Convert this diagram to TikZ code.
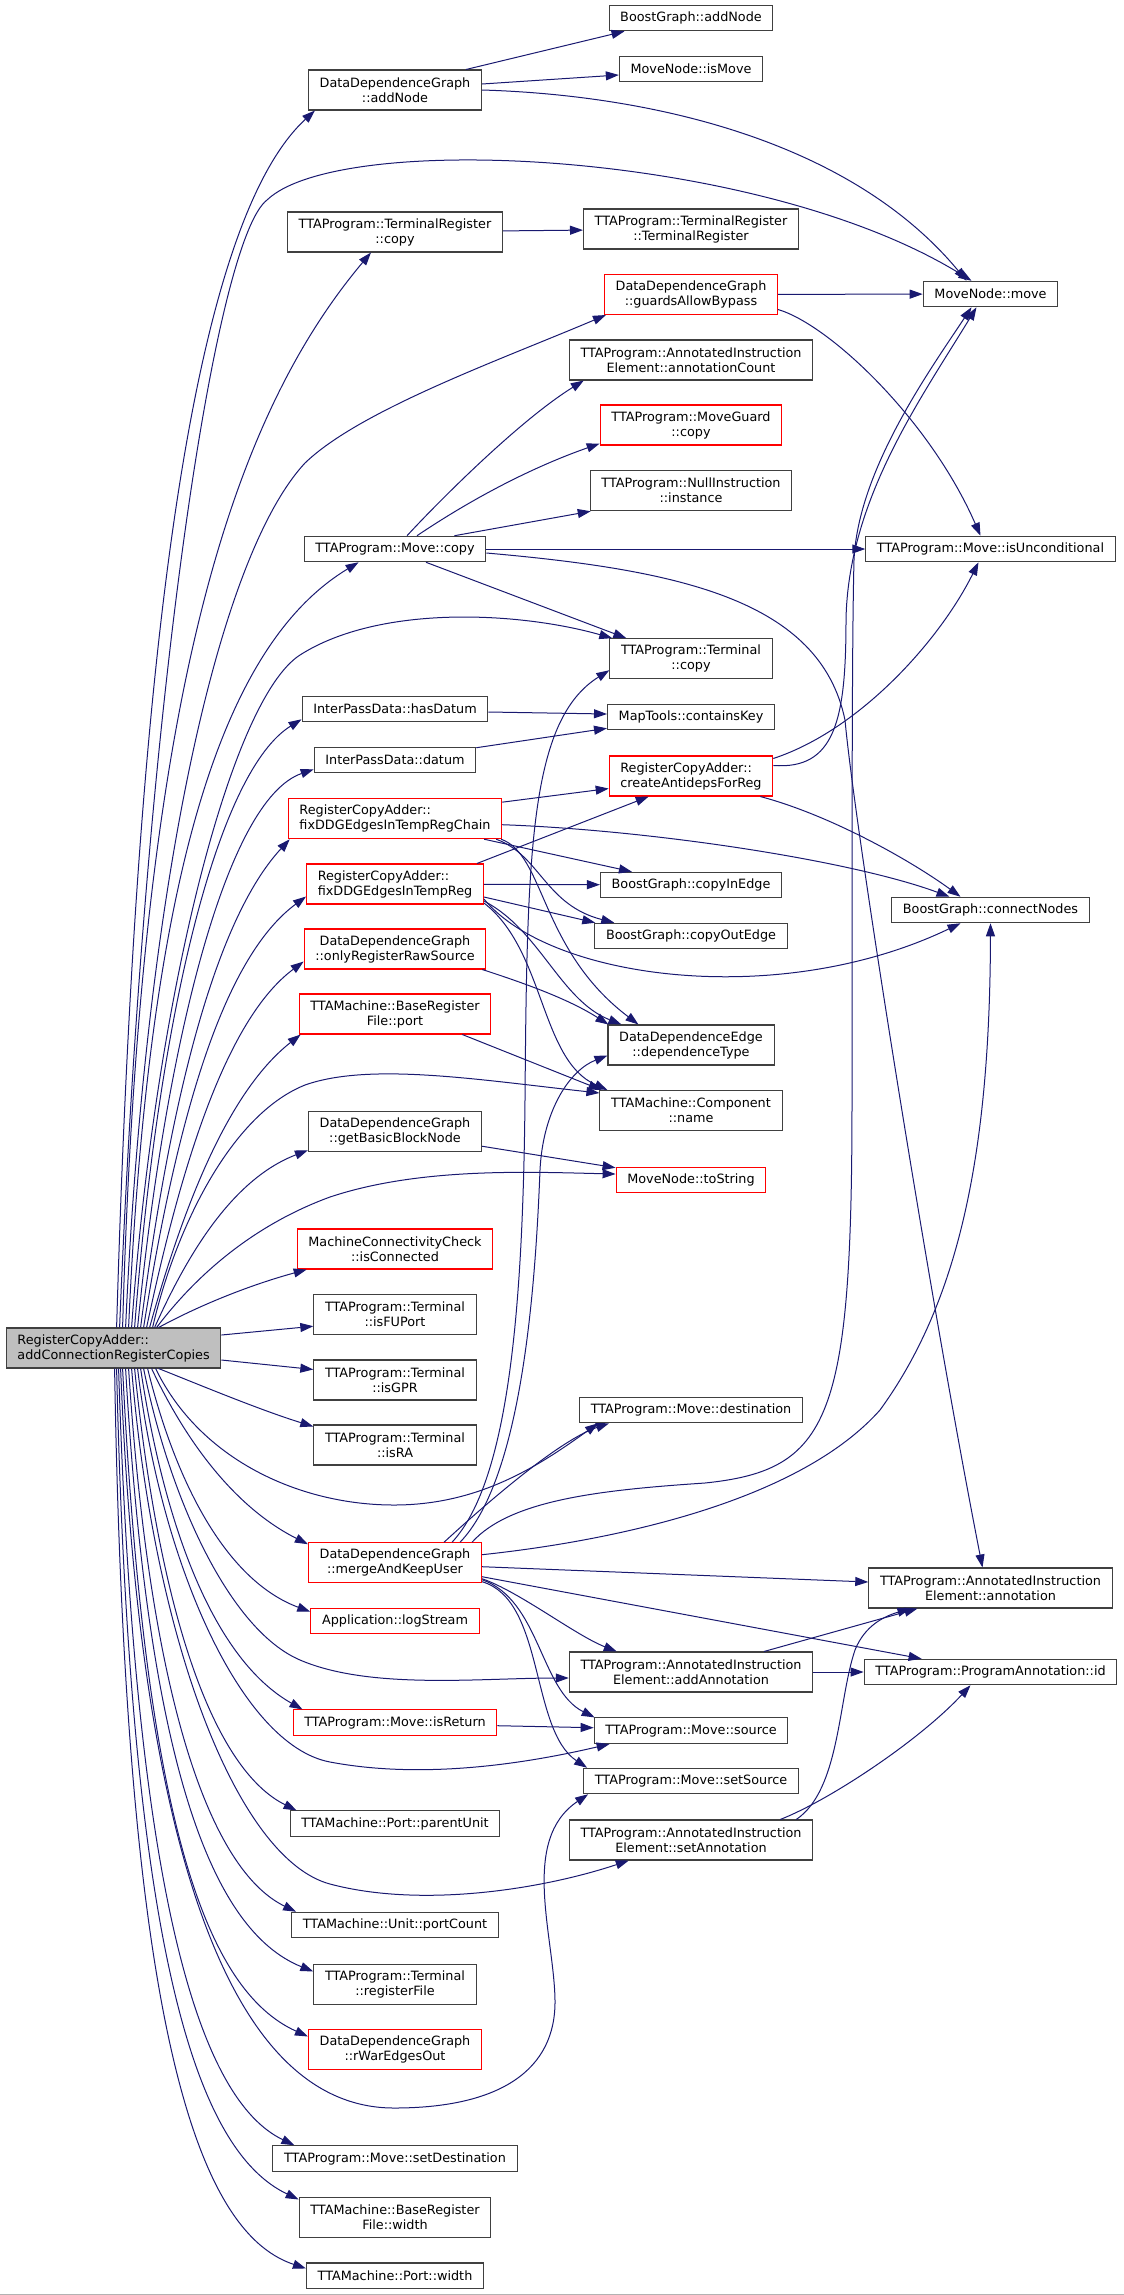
\documentclass[tikz,border=0pt]{standalone}
\usepackage{fontspec}
\setmainfont{DejaVu Sans}
\usetikzlibrary{arrows.meta}

\definecolor{edgeblue}{HTML}{191970}
\definecolor{boxgray}{HTML}{404040}
\definecolor{rootgray}{HTML}{BFBFBF}

\tikzstyle{fn}=[draw=boxgray,line width=1.05pt,fill=white,inner xsep=11.2pt,inner ysep=2pt,minimum height=25.5pt,align=center,font=\fontsize{12.8pt}{15pt}\selectfont]
\tikzstyle{fnd}=[fn,minimum height=40pt]
\tikzstyle{hot}=[fn,draw=red]
\tikzstyle{hotd}=[fnd,draw=red]
\tikzstyle{hotl}=[hotd,align=left]
\tikzstyle{root}=[fnd,fill=rootgray,align=left]
\tikzstyle{edge}=[draw=edgeblue,line width=1pt,-{Triangle[length=13pt,width=9pt]}]

\begin{document}
\begin{tikzpicture}[x=1pt,y=1pt]
    \useasboundingbox (0,0) rectangle (1124,-2295);
    \draw[gray!60,line width=1pt] (0,-2294.5) -- (1124,-2294.5);
    % First we draw the functions, column by column
    \node[root] (main) at (113.6,-1348) {RegisterCopyAdder::\\addConnectionRegisterCopies};
    \foreach \y/\name/\sty/\txt in {90/addnode/fnd/{DataDependenceGraph\\::addNode},
        232/trcopy/fnd/{TTAProgram::TerminalRegister\\::copy},
        549/mvcopy/fn/{TTAProgram::Move::copy},
        709/hasdatum/fn/{InterPassData::hasDatum},
        760/datum/fn/{InterPassData::datum},
        818.7/fixchain/hotl/{RegisterCopyAdder::\\fixDDGEdgesInTempRegChain},
        884/fixreg/hotl/{RegisterCopyAdder::\\fixDDGEdgesInTempReg},
        949/onlyraw/hotd/{DataDependenceGraph\\::onlyRegisterRawSource},
        1014/rfport/hotd/{TTAMachine::BaseRegister\\File::port},
        1131.7/getbb/fnd/{DataDependenceGraph\\::getBasicBlockNode},
        1249/isconn/hotd/{MachineConnectivityCheck\\::isConnected},
        1314.7/isfuport/fnd/{TTAProgram::Terminal\\::isFUPort},
        1380/isgpr/fnd/{TTAProgram::Terminal\\::isGPR},
        1445/isra/fnd/{TTAProgram::Terminal\\::isRA},
        1562.7/merge/hotd/{DataDependenceGraph\\::mergeAndKeepUser},
        1621/logstream/hot/{Application::logStream},
        1722.7/isreturn/hot/{TTAProgram::Move::isReturn},
        1823.7/parentunit/fn/{TTAMachine::Port::parentUnit},
        1925/portcount/fn/{TTAMachine::Unit::portCount},
        1984/regfile/fnd/{TTAProgram::Terminal\\::registerFile},
        2049/rwar/hotd/{DataDependenceGraph\\::rWarEdgesOut},
        2158.5/setdest/fn/{TTAProgram::Move::setDestination},
        2217/rfwidth/fnd/{TTAMachine::BaseRegister\\File::width},
        2275.7/portwidth/fn/{TTAMachine::Port::width}}
        \node[\sty] (\name) at (395,-\y) {\txt};
    \foreach \y/\name/\sty/\txt in {18/bgaddnode/fn/{BoostGraph::addNode},
        69/ismove/fn/{MoveNode::isMove},
        229/trctor/fnd/{TTAProgram::TerminalRegister\\::TerminalRegister},
        294.5/guards/hotd/{DataDependenceGraph\\::guardsAllowBypass},
        360/anncount/fnd/{TTAProgram::AnnotatedInstruction\\Element::annotationCount},
        425/guardcopy/hotd/{TTAProgram::MoveGuard\\::copy},
        490.7/nullinst/fnd/{TTAProgram::NullInstruction\\::instance},
        658.7/termcopy/fnd/{TTAProgram::Terminal\\::copy},
        717/containskey/fn/{MapTools::containsKey},
        776/antideps/hotl/{RegisterCopyAdder::\\createAntidepsForReg},
        885/copyin/fn/{BoostGraph::copyInEdge},
        936/copyout/fn/{BoostGraph::copyOutEdge},
        1045/deptype/fnd/{DataDependenceEdge\\::dependenceType},
        1110.5/compname/fnd/{TTAMachine::Component\\::name},
        1180/tostring/hot/{MoveNode::toString},
        1410/dest/fn/{TTAProgram::Move::destination},
        1672/addann/fnd/{TTAProgram::AnnotatedInstruction\\Element::addAnnotation},
        1730.7/source/fn/{TTAProgram::Move::source},
        1781/setsource/fn/{TTAProgram::Move::setSource},
        1840/setann/fnd/{TTAProgram::AnnotatedInstruction\\Element::setAnnotation}}
        \node[\sty] (\name) at (691,-\y) {\txt};
    \foreach \y/\name/\sty/\txt in {294/move/fn/{MoveNode::move},
        549/isuncond/fn/{TTAProgram::Move::isUnconditional},
        910/connect/fn/{BoostGraph::connectNodes},
        1588/annotation/fnd/{TTAProgram::AnnotatedInstruction\\Element::annotation},
        1672/progid/fn/{TTAProgram::ProgramAnnotation::id}}
        \node[\sty] (\name) at (990.5,-\y) {\txt};

    % Calls made by the root, upwards
    \path[edge] ([xshift=3pt]main.north) .. controls (135,-700) and (185,-230) .. ([xshift=7pt]addnode.south west);
    \path[edge] ([xshift=6pt]main.north) .. controls (145,-700) and (215,-240) .. (267,-200)
        .. controls (340,-130) and (760,-150) .. ([xshift=-19pt]move.north);
    \path[edge] ([xshift=9pt]main.north) .. controls (140,-700) and (230,-420) .. ([xshift=84pt]trcopy.south west);
    \path[edge] ([xshift=12pt]main.north) .. controls (145,-900) and (215,-560) .. (305,-463)
        .. controls (360,-410) and (500,-360) .. ([xshift=2pt]guards.south west);
    \path[edge] ([xshift=15pt]main.north) .. controls (150,-850) and (230,-640) .. ([xshift=55pt]mvcopy.south west);
    \path[edge] ([xshift=18pt]main.north) .. controls (155,-1000) and (230,-700) .. (300,-655)
        .. controls (380,-604) and (520,-612) .. ([xshift=3pt]termcopy.north west);
    \path[edge] ([xshift=21pt]main.north) .. controls (160,-1000) and (220,-770) .. ([yshift=3pt]hasdatum.south west);
    \path[edge] ([xshift=24pt]main.north) .. controls (165,-1050) and (225,-800) .. ([yshift=4pt]datum.south west);
    \path[edge] ([xshift=27pt]main.north) .. controls (170,-1100) and (215,-920) .. ([xshift=2pt]fixchain.south west);
    \path[edge] ([xshift=30pt]main.north) .. controls (175,-1130) and (220,-960) .. ([yshift=8pt]fixreg.south west);
    \path[edge] ([xshift=33pt]main.north) .. controls (180,-1170) and (225,-1020) .. ([yshift=8pt]onlyraw.south west);
    \path[edge] ([xshift=36pt]main.north) .. controls (185,-1200) and (230,-1090) .. ([xshift=2pt]rfport.south west);
    \path[edge] ([xshift=39pt]main.north) .. controls (175,-1230) and (230,-1115) .. (305,-1085)
        .. controls (370,-1062) and (480,-1080) .. ([yshift=-3pt]compname.north west);
    \path[edge] ([xshift=41pt]main.north) .. controls (185,-1260) and (230,-1180) .. ([yshift=2pt]getbb.south west);
    \path[edge] ([xshift=43pt]main.north) .. controls (185,-1290) and (240,-1230) .. (330,-1197)
        .. controls (420,-1167) and (530,-1172) .. ([yshift=6pt]tostring.west);
    \path[edge] ([xshift=45pt]main.north) .. controls (200,-1305) and (250,-1285) .. ([xshift=10pt]isconn.south west);
    \path[edge] ([yshift=13pt]main.east) -- ([yshift=9pt]isfuport.south west);
    \path[edge] ([yshift=-12pt]main.east) -- ([yshift=-10pt]isgpr.north west);
    % Calls made by the root, downwards
    \path[edge] ([xshift=45pt]main.south) .. controls (200,-1385) and (260,-1410) .. ([yshift=-2pt]isra.north west);
    \path[edge] ([xshift=42pt]main.south) .. controls (200,-1460) and (300,-1505) .. (394,-1505)
        .. controls (480,-1505) and (540,-1465) .. ([xshift=19pt]dest.south west);
    \path[edge] ([xshift=38pt]main.south) .. controls (190,-1450) and (240,-1510) .. ([yshift=-2pt]merge.north west);
    \path[edge] ([xshift=34pt]main.south) .. controls (175,-1480) and (225,-1580) .. ([yshift=-4pt]logstream.north west);
    \path[edge] ([xshift=30pt]main.south) .. controls (170,-1500) and (230,-1630) .. (300,-1660)
        .. controls (370,-1690) and (480,-1678) .. ([yshift=-6pt]addann.west);
    \path[edge] ([xshift=27pt]main.south) .. controls (165,-1530) and (215,-1660) .. ([xshift=10pt]isreturn.north west);
    \path[edge] ([xshift=24pt]main.south) .. controls (160,-1560) and (240,-1745) .. (330,-1762)
        .. controls (420,-1779) and (520,-1765) .. ([xshift=16pt]source.south west);
    \path[edge] ([xshift=21pt]main.south) .. controls (160,-1620) and (215,-1770) .. ([xshift=7pt]parentunit.north west);
    \path[edge] ([xshift=18pt]main.south) .. controls (155,-1650) and (240,-1860) .. (330,-1884)
        .. controls (420,-1908) and (540,-1890) .. ([xshift=60pt]setann.south west);
    \path[edge] ([xshift=15pt]main.south) .. controls (150,-1700) and (210,-1870) .. ([xshift=5pt]portcount.north west);
    \path[edge] ([xshift=12pt]main.south) .. controls (148,-1760) and (210,-1930) .. ([yshift=-8pt]regfile.north west);
    \path[edge] ([xshift=9pt]main.south) .. controls (145,-1820) and (205,-1990) .. ([yshift=-8pt]rwar.north west);
    \path[edge] ([xshift=7pt]main.south) .. controls (140,-1850) and (230,-2108) .. (394,-2108)
        .. controls (500,-2108) and (556,-2070) .. (555,-2000)
        .. controls (554,-1935) and (520,-1840) .. ([xshift=5pt]setsource.south west);
    \path[edge] ([xshift=5pt]main.south) .. controls (135,-1900) and (200,-2100) .. ([xshift=22pt]setdest.north west);
    \path[edge] ([xshift=3pt]main.south) .. controls (130,-1950) and (195,-2150) .. ([yshift=-3pt]rfwidth.north west);
    \path[edge] ([xshift=1pt]main.south) .. controls (125,-2000) and (190,-2230) .. ([yshift=-6pt]portwidth.north west);

    % Connect the callees with each other
    \foreach \source/\dest in {trcopy/trctor,guards/move,mvcopy/isuncond,fixreg/copyin,addann/progid}
        \path[edge] (\source) -- (\dest);
    \path[edge] ([xshift=-16pt]addnode.north east) -- ([xshift=16pt]bgaddnode.south west);
    \path[edge] ([yshift=6pt]addnode.east) -- ([yshift=-6pt]ismove.west);
    \path[edge] (addnode.east) .. controls (650,-95) and (850,-140) .. ([xshift=-24pt]move.north);
    \path[edge] ([yshift=-15pt]guards.east) .. controls (830,-325) and (930,-420) .. ([xshift=-10pt]isuncond.north);
    \path[edge] ([xshift=12pt]mvcopy.north) .. controls (440,-500) and (520,-420) .. ([xshift=15pt]anncount.south west);
    \path[edge] ([xshift=22pt]mvcopy.north) .. controls (470,-500) and (530,-468) .. ([yshift=2pt]guardcopy.south west);
    \path[edge] ([xshift=-32pt]mvcopy.north east) -- ([xshift=1pt]nullinst.south west);
    \path[edge] ([xshift=31pt]mvcopy.south) -- ([xshift=17pt]termcopy.north west);
    \path[edge] ([yshift=-4pt]mvcopy.east) .. controls (680,-570) and (820,-600) .. (845,-720)
        .. controls (855,-830) and (930,-1300) .. ([xshift=-8pt]annotation.north);
    \path[edge] ([yshift=-3pt]hasdatum.east) -- ([yshift=3pt]containskey.west);
    \path[edge] ([yshift=-1pt]datum.north east) -- ([yshift=2pt]containskey.south west);
    \path[edge] ([yshift=-4pt]fixchain.north east) -- ([yshift=8pt]antideps.south west);
    \path[edge] ([yshift=-6pt]fixchain.east) .. controls (650,-830) and (850,-860) .. ([xshift=-41pt]connect.north);
    \path[edge] ([xshift=-18pt]fixchain.south east) -- ([xshift=32pt]copyin.north west);
    \path[edge] ([xshift=-6pt]fixchain.south east) .. controls (540,-855) and (545,-905) .. ([xshift=20pt]copyout.north west);
    \path[edge] ([xshift=-1pt]fixchain.south east) .. controls (545,-855) and (540,-950) .. ([xshift=31pt]deptype.north west);
    \path[edge] ([xshift=-7pt]fixreg.north east) -- ([xshift=40pt]antideps.south west);
    \path[edge] ([yshift=-13pt]fixreg.east) -- ([xshift=1pt]copyout.north west);
    \path[edge] ([yshift=-15pt]fixreg.east) .. controls (550,-980) and (780,-1010) .. ([xshift=-30pt]connect.south);
    \path[edge] ([yshift=-17pt]fixreg.east) .. controls (540,-930) and (560,-1000) .. ([xshift=14pt]deptype.north west);
    \path[edge] ([yshift=-19pt]fixreg.east) .. controls (545,-950) and (540,-1060) .. ([xshift=8pt]compname.north west);
    \path[edge] ([xshift=-4pt]onlyraw.south east) .. controls (530,-985) and (570,-1000) .. ([xshift=1pt]deptype.north west);
    \path[edge] ([xshift=-29pt]rfport.south east) -- ([xshift=2pt]compname.north west);
    \path[edge] ([yshift=6pt]getbb.south east) -- ([yshift=-1pt]tostring.north west);
    \path[edge] ([yshift=-10pt]antideps.north east) .. controls (835,-770) and (846,-720) .. (846,-620)
        .. controls (848,-500) and (920,-400) .. ([xshift=-14pt]move.south);
    \path[edge] ([yshift=-3pt]antideps.north east) .. controls (860,-730) and (940,-640) .. ([xshift=-12pt]isuncond.south);
    \path[edge] ([xshift=-13pt]antideps.south east) .. controls (830,-815) and (910,-860) .. ([xshift=-30pt]connect.north);
    \path[edge] ([xshift=-38pt]merge.north east) .. controls (490,-1500) and (560,-1440) .. ([xshift=30pt]dest.south west);
    \path[edge] ([xshift=-30pt]merge.north east) .. controls (510,-1480) and (523,-1300) .. (525,-1100)
        .. controls (527,-850) and (530,-720) .. ([yshift=9pt]termcopy.south west);
    \path[edge] ([xshift=-22pt]merge.north east) .. controls (520,-1480) and (535,-1300) .. (540,-1170)
        .. controls (543,-1110) and (570,-1070) .. ([yshift=10pt]deptype.south west);
    \path[edge] ([xshift=-10pt]merge.north east) .. controls (510,-1500) and (600,-1490) .. (705,-1483)
        .. controls (830,-1470) and (852,-1420) .. (852,-1100)
        .. controls (852,-800) and (852,-640) .. (854,-560)
        .. controls (858,-470) and (930,-370) .. ([xshift=-19pt]move.south);
    \path[edge] ([yshift=8pt]merge.east) .. controls (620,-1540) and (800,-1500) .. (880,-1410)
        .. controls (960,-1300) and (990,-1150) .. (connect.south);
    \path[edge] ([yshift=-4pt]merge.east) -- ([yshift=6pt]annotation.west);
    \path[edge] ([yshift=-14pt]merge.east) -- ([xshift=58pt]progid.north west);
    \path[edge] ([yshift=-16pt]merge.east) .. controls (520,-1592) and (575,-1635) .. ([xshift=48pt]addann.north west);
    \path[edge] ([yshift=-17pt]merge.east) .. controls (540,-1600) and (540,-1690) .. ([xshift=1pt]source.north west);
    \path[edge] ([yshift=-19pt]merge.east) .. controls (545,-1600) and (530,-1730) .. ([xshift=4pt]setsource.north west);
    \path[edge] ([yshift=-3pt]isreturn.east) -- ([yshift=3pt]source.west);
    \path[edge] ([xshift=73pt]addann.north) -- ([xshift=-73pt]annotation.south);
    \path[edge] ([xshift=-17pt]setann.north east) .. controls (840,-1790) and (838,-1700) .. (855,-1650)
        .. controls (865,-1625) and (885,-1616) .. ([xshift=-80pt]annotation.south);
    \path[edge] ([xshift=-33pt]setann.north east) .. controls (830,-1800) and (920,-1740) .. ([xshift=-20pt]progid.south);
\end{tikzpicture}
\end{document}
